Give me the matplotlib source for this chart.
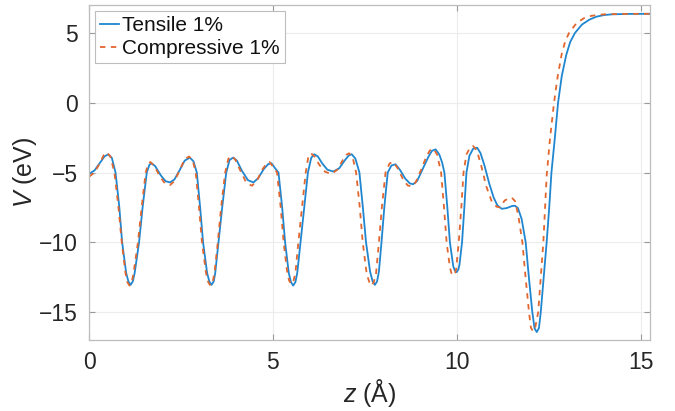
import matplotlib
matplotlib.use("Agg")
import matplotlib.pyplot as plt

# values
z_tensile = [0.00, 0.15, 0.30, 0.42, 0.52, 0.62, 0.72, 0.82, 0.90, 1.01, 1.07, 1.13, 1.19, 1.24, 1.36, 1.46, 1.57,
             1.64, 1.70, 1.80, 1.95, 2.08, 2.20, 2.32, 2.46, 2.60, 2.74, 2.84, 2.93, 3.02, 3.10, 3.21,
             3.27, 3.33, 3.39, 3.43, 3.52, 3.62, 3.73, 3.82, 3.92, 4.02, 4.15, 4.32, 4.47, 4.60, 4.75, 4.87, 4.96,
             5.06, 5.15, 5.25, 5.33, 5.43, 5.49, 5.55, 5.61, 5.66, 5.75, 5.85, 5.95, 6.04, 6.12, 6.22, 6.34, 6.48,
             6.64, 6.80, 6.96, 7.06, 7.14, 7.24, 7.35, 7.44, 7.53, 7.64, 7.71, 7.77, 7.83, 7.88, 7.95, 8.03, 8.12,
             8.22, 8.33, 8.45, 8.60, 8.72, 8.81, 8.92, 9.06, 9.22, 9.32, 9.42, 9.52, 9.60, 9.66, 9.74,
             9.81, 9.90, 9.94, 9.99, 10.04, 10.07, 10.14, 10.20, 10.26, 10.34, 10.44, 10.55, 10.64, 10.75, 10.88, 11.00,
             11.10, 11.22, 11.35, 11.50, 11.58, 11.66, 11.76, 11.87, 11.96, 12.05, 12.11, 12.17, 12.23, 12.28, 12.36,
             12.44, 12.51, 12.57, 12.66, 12.75, 12.85, 12.97, 13.08, 13.21, 13.40, 13.60, 13.80, 14.00,
             14.20, 14.60, 15.25]
v_tensile = [-5.10, -4.85, -4.30, -3.85, -3.70, -3.95, -5.00, -7.40, -10.00, -12.20, -12.80, -13.05, -12.80, -12.20, -10.00, -7.40, -5.00,
             -4.45, -4.34, -4.55, -5.20, -5.62, -5.71, -5.50, -4.85, -4.15, -3.93, -4.20, -5.00, -7.50, -10.00, -12.20,
             -12.80, -13.05, -12.80, -12.20, -10.00, -7.50, -5.00, -4.10, -3.93, -4.15, -4.85, -5.55, -5.71, -5.40, -4.75, -4.40, -4.34,
             -4.70, -5.00, -7.50, -10.00, -12.20, -12.85, -13.10, -12.85, -12.20, -10.00, -7.50, -5.00, -3.95, -3.69, -3.85, -4.35, -4.80,
             -4.93, -4.70, -4.10, -3.78, -3.69, -4.00, -5.00, -7.40, -10.00, -12.10, -12.80, -13.05, -12.80, -12.10, -10.00, -7.40, -5.00,
             -4.50, -4.41, -4.80, -5.45, -5.78, -5.84, -5.60, -4.80, -3.90, -3.45, -3.34, -3.70, -4.30, -5.00, -7.50,
             -10.00, -11.70, -12.00, -12.14, -11.95, -11.60, -10.00, -7.60, -5.00, -3.80, -3.30, -3.22, -3.60, -4.50, -5.80, -6.80,
             -7.35, -7.60, -7.55, -7.40, -7.38, -7.55, -8.33, -10.00, -12.60, -15.00, -16.15, -16.43, -16.15, -15.00, -12.50,
             -10.00, -7.50, -5.00, -2.60, 0.00, 1.90, 3.40, 4.35, 5.00, 5.60, 5.95, 6.17, 6.28,
             6.33, 6.36, 6.37]

z_compressive = [0.00, 0.15, 0.30, 0.40, 0.48, 0.58, 0.69, 0.80, 0.89, 0.99, 1.04, 1.10, 1.16, 1.21, 1.33, 1.43, 1.54,
                 1.61, 1.67, 1.78, 1.93, 2.07, 2.20, 2.33, 2.46, 2.60, 2.72, 2.82, 2.90, 2.99, 3.07, 3.18,
                 3.24, 3.30, 3.36, 3.41, 3.50, 3.59, 3.70, 3.79, 3.88, 3.98, 4.12, 4.28, 4.43, 4.57, 4.72, 4.83, 4.90,
                 5.01, 5.11, 5.21, 5.29, 5.39, 5.44, 5.50, 5.56, 5.61, 5.69, 5.79, 5.89, 5.96, 6.03, 6.13, 6.26, 6.42,
                 6.59, 6.75, 6.90, 7.00, 7.07, 7.17, 7.26, 7.36, 7.44, 7.55, 7.62, 7.68, 7.74, 7.80, 7.88, 7.96, 8.06,
                 8.17, 8.27, 8.39, 8.53, 8.66, 8.77, 8.88, 9.02, 9.17, 9.27, 9.36, 9.46, 9.57, 9.65, 9.72,
                 9.81, 9.85, 9.90, 9.95, 9.98, 10.05, 10.12, 10.18, 10.26, 10.36, 10.44, 10.54, 10.66, 10.80, 10.95, 11.08,
                 11.17, 11.30, 11.42, 11.49, 11.58, 11.67, 11.78, 11.87, 11.96, 12.01, 12.07, 12.13, 12.21, 12.35, 12.44,
                 12.53, 12.64, 12.74, 12.85, 12.95, 13.05, 13.25, 13.45, 13.65, 13.85, 14.05, 14.50, 15.25]
v_compressive = [-5.30, -5.00, -4.30, -3.75, -3.55, -3.85, -5.00, -7.50, -10.00, -12.20, -12.85, -13.10, -12.85, -12.20, -10.00, -7.50, -5.00,
                 -4.35, -4.25, -4.55, -5.30, -5.80, -5.90, -5.60, -4.85, -4.05, -3.85, -4.15, -5.00, -7.50, -10.00, -12.20,
                 -12.85, -13.10, -12.85, -12.20, -10.00, -7.50, -5.00, -4.00, -3.80, -4.10, -4.90, -5.75, -5.95, -5.55, -4.75, -4.35, -4.24,
                 -4.60, -5.00, -7.50, -10.00, -12.20, -12.75, -13.00, -12.75, -12.20, -10.00, -7.50, -5.00, -3.90, -3.62, -3.85, -4.45, -4.95,
                 -5.10, -4.80, -4.10, -3.72, -3.62, -3.95, -5.00, -7.50, -10.00, -12.30, -12.85, -13.10, -12.85, -12.30, -10.00, -7.50, -5.00,
                 -4.35, -4.24, -4.70, -5.45, -5.92, -6.00, -5.70, -4.85, -3.85, -3.40, -3.29, -3.70, -5.00, -7.50, -10.00,
                 -11.80, -12.20, -12.38, -12.20, -11.90, -10.00, -7.50, -5.00, -3.70, -3.20, -3.10, -3.40, -4.50, -6.00, -7.10, -7.45,
                 -7.50, -7.00, -6.85, -6.79, -7.05, -8.10, -10.00, -12.60, -15.00, -16.10, -16.38, -16.10, -15.00, -10.00, -5.24,
                 -2.60, 0.00, 1.90, 3.50, 4.45, 5.00, 5.70, 6.05, 6.22, 6.30, 6.34, 6.36, 6.37]

x_ticks = [0, 5, 10, 15]
y_ticks = [-15, -10, -5, 0, 5]

plt.rcParams['font.family'] = ['Liberation Sans', 'DejaVu Sans']
plt.rcParams['mathtext.fontset'] = 'custom'
plt.rcParams['mathtext.it'] = 'Liberation Sans:italic'
plt.rcParams['mathtext.rm'] = 'Liberation Sans'

fig = plt.figure(figsize=(6.75, 4.11), dpi=100)
ax = fig.add_axes([0.1319, 0.1727, 0.8311, 0.8151])

ax.plot(z_tensile, v_tensile, color='#1f86cf', lw=1.3, label='Tensile 1%')
ax.plot(z_compressive, v_compressive, color='#e2672f', lw=1.3, ls=(0, (3, 3)), label='Compressive 1%')

ax.set_xlim(0, 15.25)
ax.set_ylim(-17, 7)
ax.set_xticks(x_ticks)
ax.set_yticks(y_ticks)
ax.grid(True, color='#ececec', lw=0.8)
ax.set_axisbelow(True)

for s in ax.spines.values():
    s.set_color('#bdbdbd')
    s.set_linewidth(0.9)
ax.tick_params(direction='in', length=4, width=0.8, color='#9a9a9a',
               labelsize=16.5, labelcolor='#262626', top=True, right=True, pad=8)

ax.set_xlabel(r'$z$ (Å)', fontsize=18, color='#262626', labelpad=2)
ax.set_ylabel(r'$V$ (eV)', fontsize=18, color='#262626', labelpad=0)

leg = ax.legend(loc='upper left', fontsize=15, handlelength=0.9, handletextpad=0.12,
                borderpad=0.25, labelspacing=0.18, borderaxespad=0.3, fancybox=False,
                framealpha=1.0, edgecolor='#bdbdbd')
leg.get_frame().set_linewidth(0.8)
for t in leg.get_texts():
    t.set_color('#111111')

fig.savefig('out.png', dpi=100)
